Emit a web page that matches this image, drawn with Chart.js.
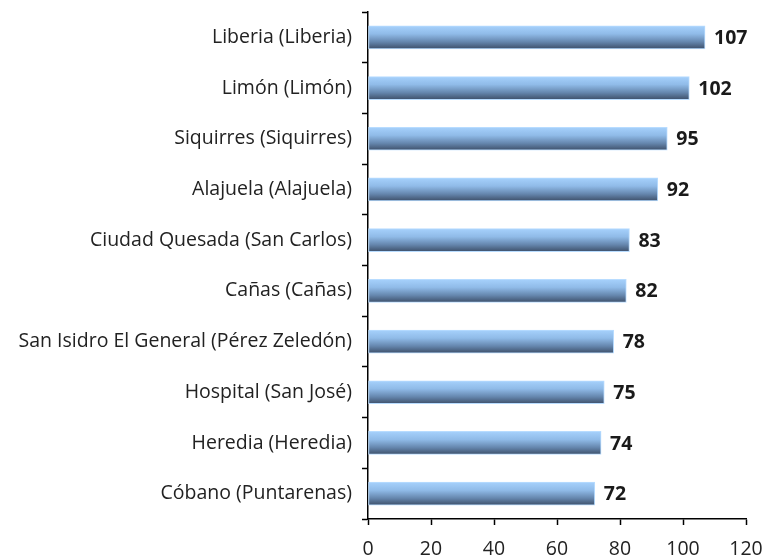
<!DOCTYPE html>
<html>
<head>
<meta charset="utf-8">
<script src="https://cdn.jsdelivr.net/npm/chart.js@4/dist/chart.umd.min.js"></script>
<style>
  html, body { margin: 0; padding: 0; background: #fff; }
  #wrap { width: 767px; height: 560px; }
</style>
</head>
<body>
<div id="wrap"><canvas id="barChart" width="767" height="560"></canvas></div>
<script>
const places = [
  "Liberia (Liberia)",
  "Limón (Limón)",
  "Siquirres (Siquirres)",
  "Alajuela (Alajuela)",
  "Ciudad Quesada (San Carlos)",
  "Cañas (Cañas)",
  "San Isidro El General (Pérez Zeledón)",
  "Hospital (San José)",
  "Heredia (Heredia)",
  "Cóbano (Puntarenas)",
];
const counts = [107, 102, 95, 92, 83, 82, 78, 75, 74, 72];
const xTicks = [0, 20, 40, 60, 80, 100, 120];

const labelFont = "'Open Sans', 'Noto Sans', sans-serif";
const barHeight = 23;

// vertical shading on each bar, light on top and dark underneath
function barGradient(context) {
  const chart = context.chart;
  const yScale = chart.scales.y;
  if (!yScale || context.dataIndex === undefined) return "#7fa6d0";
  const cy = yScale.getPixelForValue(context.dataIndex);
  if (!isFinite(cy)) return "#7fa6d0";
  const g = chart.ctx.createLinearGradient(0, cy - barHeight / 2, 0, cy + barHeight / 2);
  g.addColorStop(0, "#a6d1fc");
  g.addColorStop(0.35, "#90bbe8");
  g.addColorStop(0.7, "#6586ad");
  g.addColorStop(1, "#3e506a");
  return g;
}

// value printed to the right of each bar
const valueLabels = {
  id: "valueLabels",
  afterDatasetsDraw(chart) {
    const ctx = chart.ctx;
    const meta = chart.getDatasetMeta(0);
    ctx.save();
    ctx.font = "bold 19.5px " + labelFont;
    ctx.fillStyle = "#1a1a1a";
    ctx.textAlign = "left";
    ctx.textBaseline = "middle";
    meta.data.forEach((bar, i) => {
      ctx.fillText(String(counts[i]), bar.x + 9, bar.y + 1);
    });
    ctx.restore();
  },
};

const ctx = document.getElementById("barChart").getContext("2d");

new Chart(ctx, {
  type: "bar",
  data: {
    labels: places,
    datasets: [
      {
        data: counts,
        backgroundColor: barGradient,
        borderColor: "#b8dcff",
        borderWidth: 1,
        borderSkipped: false,
        barThickness: barHeight,
      },
    ],
  },
  options: {
    indexAxis: "y",
    responsive: false,
    animation: false,
    layout: { padding: { top: 12, right: 0, left: 0, bottom: 0 } },
    plugins: {
      legend: { display: false },
      tooltip: { enabled: false },
    },
    scales: {
      x: {
        min: 0,
        max: 120,
        afterBuildTicks(scale) {
          scale.ticks = xTicks.map((v) => ({ value: v }));
        },
        afterFit(scale) {
          scale.height = 41;
          scale.paddingRight = 21;
        },
        grid: {
          drawOnChartArea: false,
          drawTicks: true,
          tickLength: 6,
          tickColor: "#000",
          tickWidth: 1.5,
        },
        border: { display: true, color: "#000", width: 1.5 },
        ticks: {
          color: "#222",
          padding: 13,
          maxRotation: 0,
          font: { family: labelFont, size: 19.5 },
        },
      },
      y: {
        afterFit(scale) {
          scale.width = 368;
          scale.paddingTop = 0;
          scale.paddingBottom = 0;
        },
        grid: {
          offset: true,
          drawOnChartArea: false,
          drawTicks: true,
          tickLength: 6,
          tickColor: "#000",
          tickWidth: 1.5,
        },
        border: { display: true, color: "#000", width: 1.5 },
        ticks: {
          color: "#222",
          padding: 10,
          autoSkip: false,
          font: { family: labelFont, size: 19.5 },
        },
      },
    },
  },
  plugins: [valueLabels],
});
</script>
</body>
</html>
